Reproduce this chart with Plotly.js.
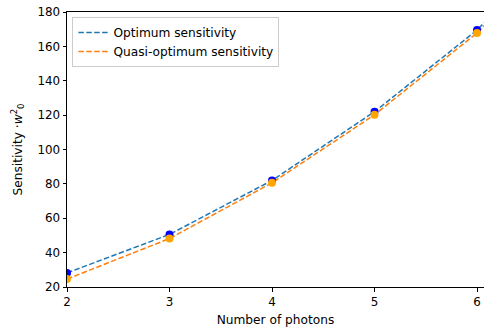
<!DOCTYPE html>
<html>
<head>
<meta charset="utf-8">
<script src="https://cdn.plot.ly/plotly-3.0.1.min.js"></script>
<style>html,body{margin:0;padding:0;background:#fff}#chart{width:484px;height:327px}</style>
</head>
<body>
<div id="chart"></div>
<script>
const photons = [2, 3, 4, 5, 6, 7];
const optimum = [28.2, 50.6, 82.0, 122.0, 169.5, 230];
const quasiOptimum = [24.6, 48.2, 80.6, 120.2, 167.8, 228];
const xTicks = [2, 3, 4, 5, 6];
const yTicks = [20, 40, 60, 80, 100, 120, 140, 160, 180];

const FONT = 'DejaVu Sans, sans-serif';
const FS = 12.2;
const TFS = 11.9;

const traces = [
  {x: photons, y: optimum, mode: 'lines', name: 'Optimum sensitivity',
   line: {color: '#1f77b4', width: 1.5, dash: '5.5px,2.4px'}},
  {x: photons, y: quasiOptimum, mode: 'lines', name: 'Quasi-optimum sensitivity',
   line: {color: '#ff7f0e', width: 1.5, dash: '5.5px,2.4px'}},
  {x: photons, y: optimum, mode: 'markers', showlegend: false,
   marker: {color: '#0000ff', size: 8}},
  {x: photons, y: quasiOptimum, mode: 'markers', showlegend: false,
   marker: {color: '#ffa500', size: 8}}
];

const layout = {
  width: 484, height: 327,
  margin: {l: 66.5, r: 0, t: 12, b: 40, pad: 0},
  paper_bgcolor: '#fff', plot_bgcolor: '#fff',
  font: {family: FONT, size: FS, color: '#000'},
  showlegend: true,
  legend: {x: 0.013, y: 0.982, xanchor: 'left', yanchor: 'top',
           bgcolor: 'rgba(255,255,255,0.8)', bordercolor: '#cccccc', borderwidth: 1,
           font: {family: FONT, size: FS, color: '#000'}, itemwidth: 30,
           tracegroupgap: 0},
  xaxis: {range: [2, 6.068], tickvals: xTicks, ticktext: xTicks.map(String),
          tickfont: {family: FONT, size: TFS, color: '#000'},
          showgrid: false, zeroline: false, showline: true, linecolor: '#000', linewidth: 1,
          mirror: true, ticks: 'outside', ticklen: 3.5, tickwidth: 1, tickcolor: '#000',
          title: {text: 'Number of photons', font: {family: FONT, size: FS}, standoff: 8},
          automargin: false, fixedrange: true},
  yaxis: {range: [20, 180], tickvals: yTicks, ticktext: yTicks.map(String),
          tickfont: {family: FONT, size: TFS, color: '#000'},
          showgrid: false, zeroline: false, showline: true, linecolor: '#000', linewidth: 1,
          ticks: 'outside', ticklen: 3.5, tickwidth: 1, tickcolor: '#000',
          title: {text: 'Sensitivity ·<i>w</i><sup>2</sup><sub>0</sub>', font: {family: FONT, size: FS}, standoff: 12},
          automargin: false, fixedrange: true}
};

Plotly.newPlot('chart', traces, layout, {displayModeBar: false, staticPlot: true});
</script>
</body>
</html>
